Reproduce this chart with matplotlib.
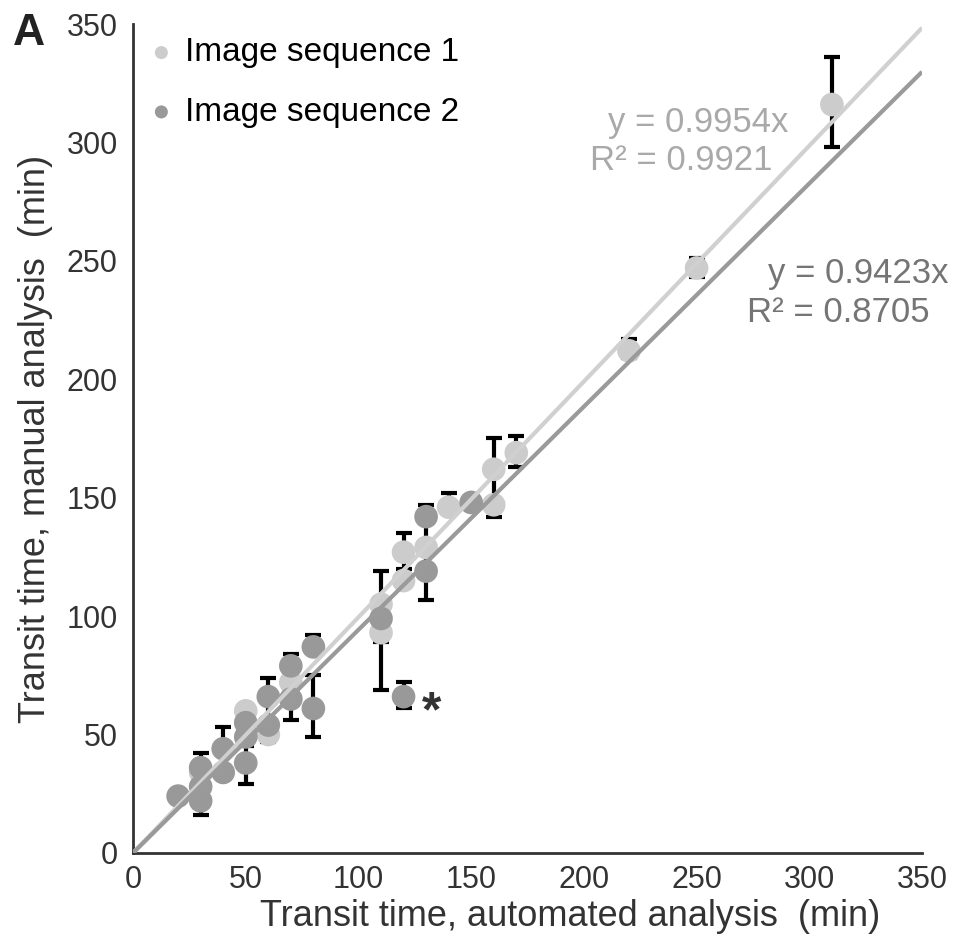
import matplotlib
matplotlib.use("Agg")
import matplotlib.pyplot as plt
import numpy as np

plt.rcParams['font.family'] = ['Liberation Sans', 'DejaVu Sans']

# Image sequence 1 (light grey)
seq1_x = [30, 50, 60, 70, 110, 110, 120, 120, 130, 140, 160, 160, 170, 220, 250, 310]
seq1_y = [34, 60, 50, 72, 105, 93, 127, 115, 129, 146, 162, 147, 169, 212, 247, 316]

# Image sequence 2 (dark grey)
seq2_x = [20, 30, 30, 30, 40, 40, 50, 50, 50, 60, 60, 70, 70, 80, 80, 110, 120, 130, 130, 150]
seq2_y = [24, 36, 28, 22, 44, 34, 55, 49, 38, 66, 54, 79, 65, 87, 61, 99, 66, 142, 119, 148]

# error bars (low / high ends)
bar_x = [30, 40, 50, 60, 70, 80, 80, 110, 110, 120, 120, 130, 140, 160, 170, 220, 250, 310]
bar_lo = [16, 34, 29, 47, 56, 87, 49, 69, 89, 120, 61, 107, 146, 142, 163, 209, 243, 298]
bar_hi = [42, 53, 45, 74, 84, 92, 75, 119, 100, 135, 72, 147, 152, 175, 176, 217, 251, 336]

slope1, r2_1 = 0.9954, 0.9921
slope2, r2_2 = 0.9423, 0.8705

light = '#cccccc'
dark = '#999999'

fig = plt.figure(figsize=(9.71, 9.49), dpi=100)
ax = fig.add_axes([0.137, 0.1012, 0.8126, 0.8735])

bx = np.array(bar_x)
lo = np.array(bar_lo)
hi = np.array(bar_hi)
mid = (lo + hi) / 2
ax.errorbar(bx, mid, yerr=(hi - lo) / 2, fmt='none', ecolor='black',
            elinewidth=3, capsize=6, capthick=3, zorder=1, clip_on=False)

ax.scatter(seq1_x, seq1_y, s=290, color=light, edgecolors='none', zorder=2,
           clip_on=False, label='Image sequence 1')
ax.scatter(seq2_x, seq2_y, s=290, color=dark, edgecolors='none', zorder=3,
           clip_on=False, label='Image sequence 2')

xs = np.array([0, 350])
ax.plot(xs, slope1 * xs, color='#d0d0d0', lw=3, zorder=4, solid_capstyle='butt')
ax.plot(xs, slope2 * xs, color='#9a9a9a', lw=3, zorder=4, solid_capstyle='butt')

ax.text(210.5, 308.6, 'y = %.4fx' % slope1, color='#a9a9a9', fontsize=25, va='center')
ax.text(202.5, 292.5, 'R² = %.4f' % r2_1, color='#a9a9a9', fontsize=25, va='center')
ax.text(281.5, 244.8, 'y = %.4fx' % slope2, color='#757575', fontsize=25, va='center')
ax.text(272.5, 228.4, 'R² = %.4f' % r2_2, color='#757575', fontsize=25, va='center')
ax.text(132.5, 59, '*', color='#333333', fontsize=36, fontweight='bold', va='center', ha='center')

ax.set_xlim(0, 350)
ax.set_ylim(0, 350)
ax.set_xticks(range(0, 351, 50))
ax.set_yticks(range(0, 351, 50))
ax.tick_params(axis='both', length=0, labelsize=22, labelcolor='#333333')
ax.tick_params(axis='y', pad=11)
ax.tick_params(axis='x', pad=9)
for s in ['top', 'right']:
    ax.spines[s].set_visible(False)
for s in ['left', 'bottom']:
    ax.spines[s].set_color('#333333')
    ax.spines[s].set_linewidth(2)

ax.set_xlabel('Transit time, automated analysis  (min)', fontsize=26, color='#333333', labelpad=8)
ax.xaxis.set_label_coords(0.554, -0.055)
ax.set_ylabel('Transit time, manual analysis  (min)', fontsize=26, color='#333333', labelpad=10)

leg = ax.legend(loc='upper left', bbox_to_anchor=(0.0, 1.0), frameon=False, fontsize=24,
                markerscale=0.55, handlelength=0.9, handletextpad=0.25,
                labelspacing=0.85, borderaxespad=0.0, borderpad=0.4)

fig.text(0.013, 0.986, 'A', fontsize=32, fontweight='bold', va='top', ha='left', color='#222222')

fig.savefig('out.png', dpi=100)
